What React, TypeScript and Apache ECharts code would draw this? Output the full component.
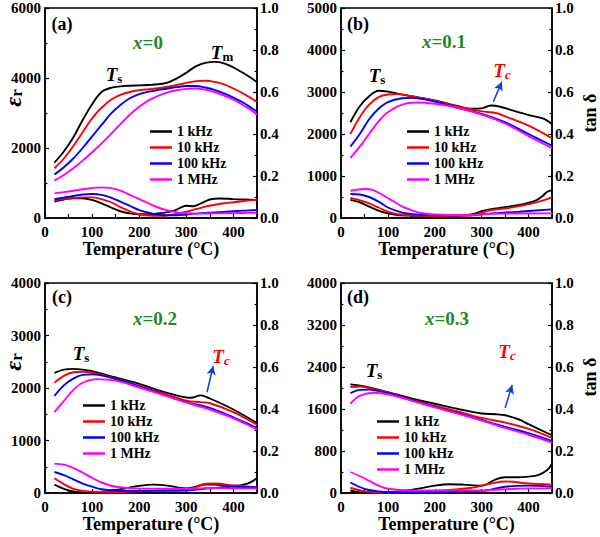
import React, { useEffect, useRef } from "react";
import * as echarts from "echarts";

const F = "'Liberation Serif','Times New Roman',serif";
const NAMES = ["1 kHz", "10 kHz", "100 kHz", "1 MHz"];
const COLORS = ["#000000", "#ff0000", "#0000ff", "#ff00ff"];

// Panel (a) x=0
const aEps1k = [[20,1580],[40,1900],[60,2300],[80,2800],[100,3250],[120,3600],[140,3720],[160,3760],[180,3780],[200,3790],[220,3800],[240,3820],[260,3870],[280,3990],[300,4150],[320,4330],[340,4430],[360,4460],[380,4420],[400,4300],[420,4150],[440,3980],[450,3880]];
const aEps10k = [[20,1420],[40,1700],[60,2050],[80,2450],[100,2850],[120,3150],[140,3380],[160,3520],[180,3600],[200,3650],[220,3680],[240,3710],[260,3750],[280,3800],[300,3860],[320,3910],[340,3920],[360,3890],[380,3820],[400,3700],[420,3560],[440,3400],[450,3320]];
const aEps100k = [[20,1240],[40,1450],[60,1700],[80,2000],[100,2330],[120,2660],[140,2980],[160,3230],[180,3420],[200,3540],[220,3610],[240,3660],[260,3700],[280,3740],[300,3770],[320,3770],[340,3730],[360,3660],[380,3560],[400,3440],[420,3300],[440,3130],[450,3040]];
const aEps1M = [[20,1070],[40,1230],[60,1420],[80,1640],[100,1880],[120,2130],[140,2400],[160,2680],[180,2950],[200,3180],[220,3360],[240,3490],[260,3590],[280,3650],[300,3690],[320,3700],[340,3670],[360,3600],[380,3500],[400,3380],[420,3230],[440,3060],[450,2950]];
const aTan1k = [[20,0.078],[40,0.088],[60,0.094],[80,0.094],[100,0.086],[120,0.07],[140,0.05],[160,0.032],[180,0.022],[200,0.018],[220,0.018],[240,0.022],[260,0.028],[275,0.035],[290,0.052],[300,0.058],[315,0.056],[330,0.068],[350,0.088],[370,0.093],[400,0.09],[450,0.086]];
const aTan10k = [[20,0.083],[40,0.09],[60,0.095],[80,0.098],[100,0.098],[120,0.09],[140,0.075],[160,0.052],[180,0.032],[200,0.018],[220,0.012],[240,0.01],[260,0.012],[280,0.02],[300,0.03],[320,0.042],[340,0.054],[360,0.063],[380,0.07],[400,0.075],[420,0.08],[440,0.085],[450,0.087]];
const aTan100k = [[20,0.089],[40,0.097],[60,0.105],[80,0.112],[100,0.114],[120,0.11],[140,0.097],[160,0.078],[180,0.058],[200,0.038],[220,0.025],[240,0.016],[260,0.013],[280,0.013],[300,0.017],[320,0.021],[340,0.024],[360,0.027],[380,0.029],[400,0.032],[420,0.035],[440,0.037],[450,0.038]];
const aTan1M = [[20,0.117],[40,0.123],[60,0.13],[80,0.137],[100,0.143],[120,0.146],[140,0.142],[160,0.13],[180,0.11],[200,0.09],[220,0.07],[240,0.05],[260,0.036],[280,0.027],[300,0.023],[320,0.021],[340,0.021],[360,0.022],[380,0.022],[400,0.023],[420,0.024],[440,0.025],[450,0.025]];

// Panel (b) x=0.1
const bEps1k = [[20,2280],[40,2660],[60,2900],[80,3030],[100,3010],[120,2960],[150,2900],[200,2800],[250,2660],[280,2600],[300,2610],[320,2680],[340,2650],[360,2580],[400,2450],[430,2370],[450,2240]];
const bEps10k = [[20,2000],[40,2400],[60,2700],[80,2880],[100,2940],[120,2950],[150,2900],[200,2790],[250,2650],[300,2540],[330,2500],[350,2420],[400,2200],[450,1900]];
const bEps100k = [[20,1700],[40,2000],[60,2350],[80,2600],[100,2760],[130,2850],[150,2860],[200,2770],[250,2620],[300,2480],[350,2280],[400,2000],[450,1720]];
const bEps1M = [[20,1430],[40,1700],[60,2000],[80,2300],[100,2520],[130,2700],[160,2750],[200,2720],[250,2620],[300,2460],[350,2250],[400,1950],[450,1660]];
const bTan1k = [[20,0.086],[40,0.075],[60,0.054],[80,0.035],[100,0.022],[120,0.014],[150,0.011],[200,0.01],[250,0.012],[280,0.018],[300,0.032],[320,0.042],[345,0.05],[380,0.062],[415,0.083],[430,0.105],[440,0.125],[450,0.132]];
const bTan10k = [[20,0.095],[40,0.085],[60,0.07],[80,0.05],[100,0.03],[120,0.018],[150,0.013],[200,0.011],[280,0.012],[295,0.022],[316,0.036],[350,0.045],[380,0.057],[415,0.073],[450,0.098]];
const bTan100k = [[20,0.114],[40,0.112],[60,0.1],[80,0.078],[100,0.05],[120,0.033],[140,0.022],[170,0.016],[200,0.014],[273,0.013],[309,0.02],[350,0.026],[380,0.03],[450,0.041]];
const bTan1M = [[20,0.13],[50,0.138],[70,0.132],[96,0.1],[115,0.075],[131,0.054],[150,0.038],[167,0.025],[200,0.017],[273,0.014],[309,0.019],[350,0.021],[450,0.022]];

// Panel (c) x=0.2
const cEps1k = [[20,2290],[40,2350],[60,2365],[80,2350],[100,2320],[150,2200],[200,2080],[250,1930],[300,1820],[310,1815],[330,1860],[350,1800],[400,1590],[450,1330]];
const cEps10k = [[20,2100],[40,2230],[60,2300],[80,2310],[100,2290],[150,2180],[200,2040],[250,1900],[300,1760],[330,1730],[350,1710],[400,1540],[450,1300]];
const cEps100k = [[20,1850],[40,2050],[60,2180],[80,2250],[100,2260],[150,2170],[200,2030],[250,1880],[300,1730],[350,1620],[400,1440],[450,1240]];
const cEps1M = [[20,1540],[40,1750],[60,1960],[80,2100],[110,2170],[150,2140],[200,2010],[250,1870],[300,1720],[350,1590],[400,1420],[450,1210]];
const cTan1k = [[20,0.04],[40,0.02],[60,0.007],[80,0.003],[100,0.003],[150,0.015],[200,0.034],[230,0.04],[260,0.035],[300,0.022],[320,0.03],[340,0.04],[360,0.04],[400,0.033],[430,0.045],[450,0.07]];
const cTan10k = [[20,0.07],[40,0.042],[60,0.02],[80,0.01],[100,0.006],[150,0.005],[200,0.008],[250,0.012],[300,0.016],[320,0.028],[340,0.044],[360,0.045],[400,0.036],[450,0.028]];
const cTan100k = [[20,0.1],[40,0.085],[60,0.065],[80,0.045],[100,0.03],[120,0.018],[150,0.012],[200,0.01],[300,0.012],[320,0.016],[350,0.022],[400,0.03],[450,0.026]];
const cTan1M = [[20,0.14],[40,0.135],[60,0.12],[80,0.097],[100,0.072],[120,0.05],[150,0.03],[200,0.021],[300,0.02],[350,0.024],[400,0.022],[450,0.022]];

// Panel (d) x=0.3
const dEps1k = [[20,2070],[50,2030],[100,1920],[150,1800],[200,1700],[250,1600],[300,1515],[330,1500],[350,1480],[380,1400],[400,1310],[450,1100]];
const dEps10k = [[20,2020],[40,2030],[60,2000],[100,1910],[150,1780],[200,1660],[250,1550],[300,1430],[350,1340],[400,1220],[450,1050]];
const dEps100k = [[20,1900],[40,1965],[60,1970],[100,1900],[150,1770],[200,1640],[250,1520],[300,1390],[350,1260],[400,1140],[450,990]];
const dEps1M = [[20,1700],[40,1850],[70,1910],[100,1880],[150,1760],[200,1630],[250,1510],[300,1380],[350,1240],[400,1110],[450,960]];
const dTan1k = [[20,0.012],[40,0.004],[100,0.005],[150,0.015],[200,0.035],[230,0.042],[260,0.04],[300,0.035],[330,0.065],[350,0.075],[380,0.075],[400,0.078],[420,0.085],[440,0.11],[450,0.14]];
const dTan10k = [[20,0.025],[50,0.008],[100,0.002],[200,0.01],[280,0.025],[320,0.045],[350,0.055],[400,0.045],[450,0.04]];
const dTan100k = [[20,0.05],[50,0.02],[80,0.008],[100,0.004],[300,0.01],[350,0.03],[400,0.035],[450,0.03]];
const dTan1M = [[20,0.1],[50,0.07],[80,0.035],[100,0.02],[150,0.012],[300,0.012],[350,0.018],[400,0.022],[450,0.022]];

const EPS = [
  [aEps1k, aEps10k, aEps100k, aEps1M],
  [bEps1k, bEps10k, bEps100k, bEps1M],
  [cEps1k, cEps10k, cEps100k, cEps1M],
  [dEps1k, dEps10k, dEps100k, dEps1M],
];
const TAN = [
  [aTan1k, aTan10k, aTan100k, aTan1M],
  [bTan1k, bTan10k, bTan100k, bTan1M],
  [cTan1k, cTan10k, cTan100k, cTan1M],
  [dTan1k, dTan10k, dTan100k, dTan1M],
];
const EPS_MAX = [6000, 5000, 4000, 4000];
const EPS_INTERVAL = [2000, 1000, 1000, 800];
// Tc arrows [tail, head] in data coords (T, eps)
const ARROWS = [null, [[325, 2770], [343, 3245]], [[344, 1924], [357, 2419]], [[350, 1619], [365, 2057]]];

const GRIDS = [
  { left: 45, top: 8, width: 212, height: 210 },
  { left: 341, top: 8, width: 211, height: 210 },
  { left: 45, top: 283, width: 212, height: 210 },
  { left: 341, top: 283, width: 211, height: 210 },
];
const NAME_GAP = [12, 12, 16, 16];
const LEGEND_POS = [[150, 124], [407, 124], [83, 398], [377, 414]];

function sub(x: number, y: number, main: string, s: string, color: string, sItalic: boolean, rotation = 0) {
  return {
    type: "text", x, y, rotation, z: 100,
    style: {
      text: `{m|${main}}{s|${s}}`, align: "center", verticalAlign: "middle",
      rich: {
        m: { fontSize: 19, fontStyle: "italic", fontWeight: "bold", fontFamily: F, fill: color, lineHeight: 22, verticalAlign: "middle" },
        s: { fontSize: 13, fontStyle: sItalic ? "italic" : "normal", fontWeight: "bold", fontFamily: F, fill: color, lineHeight: 22, verticalAlign: "bottom" },
      },
    },
  };
}
function plain(x: number, y: number, text: string, fs = 18, rotation = 0) {
  return { type: "text", x, y, rotation, z: 100, style: { text, fill: "#000", fontSize: fs, fontWeight: "bold", fontFamily: F, align: "center", verticalAlign: "middle" } };
}
function xLabel(x: number, y: number, val: string) {
  const G = "#1e8a1e";
  return {
    type: "text", x, y, z: 100,
    style: {
      text: `{i|x}{n|=${val}}`, align: "center", verticalAlign: "middle",
      rich: {
        i: { fontSize: 19, fontStyle: "italic", fontWeight: "bold", fontFamily: F, fill: G },
        n: { fontSize: 19, fontWeight: "bold", fontFamily: F, fill: G },
      },
    },
  };
}
function epsTitle(x: number, y: number) {
  return {
    type: "text", x, y, rotation: Math.PI / 2, z: 100,
    style: {
      text: "{e|ε}{r|r}", align: "center", verticalAlign: "middle",
      rich: {
        e: { fontSize: 24, fontStyle: "italic", fontWeight: "bold", fontFamily: F, fill: "#000", lineHeight: 24, verticalAlign: "middle" },
        r: { fontSize: 17, fontWeight: "bold", fontFamily: F, fill: "#000", lineHeight: 24, verticalAlign: "bottom" },
      },
    },
  };
}

export default function App() {
  const ref = useRef<HTMLDivElement>(null);
  useEffect(() => {
    if (!ref.current) return;
    const chart = echarts.init(ref.current, null, { renderer: "svg" });
    const lbl = { color: "#000", fontFamily: F, fontWeight: "bold", fontSize: 15 };
    const axLine = { show: true, lineStyle: { color: "#000", width: 1.5 } };
    const tick = { show: true, inside: true, length: 4, lineStyle: { color: "#000", width: 1.2 } };
    const minor = { show: true, splitNumber: 2, length: 2.5, lineStyle: { color: "#000", width: 1.2 } };

    const xAxis: any[] = [];
    const yAxis: any[] = [];
    const series: any[] = [];
    const legend: any[] = [];
    for (let i = 0; i < 4; i++) {
      xAxis.push({
        type: "value", gridIndex: i, min: 0, max: 450, interval: 50,
        axisLine: axLine, axisTick: tick, splitLine: { show: false },
        axisLabel: { ...lbl, margin: 6, formatter: (v: number) => (v % 100 === 0 && v < 450 ? String(v) : "") },
        name: "Temperature (°C)", nameLocation: "middle", nameGap: NAME_GAP[i],
        nameTextStyle: { color: "#000", fontFamily: F, fontWeight: "bold", fontSize: 18, verticalAlign: "top" },
      });
      yAxis.push({
        type: "value", gridIndex: i, position: "left", min: 0, max: EPS_MAX[i], interval: EPS_INTERVAL[i],
        axisLine: axLine, axisTick: tick, minorTick: minor, splitLine: { show: false },
        axisLabel: { ...lbl, margin: 4, formatter: (v: number) => String(v) },
      });
      yAxis.push({
        type: "value", gridIndex: i, position: "right", min: 0, max: 1, interval: 0.2,
        axisLine: axLine, axisTick: tick, minorTick: minor, splitLine: { show: false },
        axisLabel: { ...lbl, margin: 3, formatter: (v: number) => v.toFixed(1) },
      });
      for (let k = 0; k < 4; k++) {
        const s: any = {
          type: "line", name: NAMES[k], xAxisIndex: i, yAxisIndex: 2 * i, data: EPS[i][k],
          smooth: 0.35, symbol: "none", lineStyle: { color: COLORS[k], width: 1.9 }, itemStyle: { color: COLORS[k] },
        };
        if (k === 0 && ARROWS[i]) {
          const a = ARROWS[i] as number[][];
          s.markLine = {
            silent: true, symbol: ["none", "arrow"], symbolSize: [7, 9], label: { show: false },
            lineStyle: { color: "#1040e0", width: 1.5, type: "solid" },
            data: [[{ coord: a[0] }, { coord: a[1] }]],
          };
        }
        series.push(s);
        series.push({
          type: "line", name: NAMES[k], xAxisIndex: i, yAxisIndex: 2 * i + 1, data: TAN[i][k],
          smooth: 0.35, symbol: "none", lineStyle: { color: COLORS[k], width: 1.9 }, itemStyle: { color: COLORS[k] },
        });
      }
      legend.push({
        data: NAMES, orient: "vertical", left: LEGEND_POS[i][0], top: LEGEND_POS[i][1],
        icon: "rect", itemWidth: 22, itemHeight: 2.5, itemGap: 1, padding: 0,
        selectedMode: false,
        textStyle: { color: "#000", fontFamily: F, fontWeight: "bold", fontSize: 14, lineHeight: 15 },
      });
    }

    const R = "#ff0000";
    const graphic: any[] = [
      plain(62, 24, "(a)"), xLabel(148, 42, "0"), sub(114, 74, "T", "s", "#000", false), sub(222, 52, "T", "m", "#000", false),
      plain(358, 24, "(b)"), xLabel(444, 41, "0.1"), sub(377, 75, "T", "s", "#000", false), sub(502, 70, "T", "c", R, true),
      plain(62, 297, "(c)"), xLabel(155, 318, "0.2"), sub(81, 353, "T", "s", "#000", false), sub(221, 356, "T", "c", R, true),
      plain(358, 297, "(d)"), xLabel(447, 318, "0.3"), sub(374, 370, "T", "s", "#000", false), sub(507, 351, "T", "c", R, true),
      epsTitle(13, 98), epsTitle(13, 362),
      plain(590, 113, "tan δ", 18, Math.PI / 2), plain(590, 377, "tan δ", 18, Math.PI / 2),
    ];

    chart.setOption({
      animation: false,
      backgroundColor: "#ffffff",
      grid: GRIDS.map((g) => ({ ...g, show: true, borderColor: "#000", borderWidth: 1.5, backgroundColor: "transparent" })),
      xAxis, yAxis, series, legend, graphic,
    });
    return () => chart.dispose();
  }, []);
  return <div ref={ref} style={{ position: "fixed", left: 0, top: 0, width: 600, height: 537, background: "#fff" }} />;
}
